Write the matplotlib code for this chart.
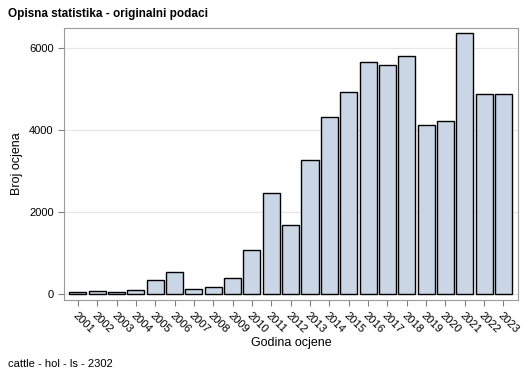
import numpy as np
import matplotlib.pyplot as plt

plt.rcParams['font.family'] = ['Liberation Sans', 'DejaVu Sans']

years = [str(y) for y in range(2001, 2024)]
counts = [40, 80, 40, 90, 340, 540, 130, 180, 400, 1080,
          2460, 1680, 3270, 4320, 4930, 5660, 5590, 5800, 4120, 4220,
          6370, 4880, 4880]

fig = plt.figure(figsize=(5.29, 3.78), dpi=100)
ax = fig.add_axes([0.121, 0.206, 0.858, 0.72])

x = np.arange(len(years))
ax.bar(x, counts, width=0.88, color='#CAD5E5', edgecolor='black', linewidth=1.0, zorder=3)

ax.set_xlim(-0.72, len(years) - 0.25)
ax.set_ylim(-150, 6490)
ax.set_yticks([0, 2000, 4000, 6000])
ax.yaxis.grid(True, color='#E6E6E6', linewidth=0.8, zorder=0)
ax.set_xticks(x)
ax.set_xticklabels(years, rotation=-45, ha='left', va='top', rotation_mode='anchor', fontsize=8)
ax.tick_params(axis='y', labelsize=8, color='#808080', length=4)
ax.tick_params(axis='x', color='#808080', length=4)
for s in ax.spines.values():
    s.set_color('#9A9A9A')

ax.set_xlabel('Godina ocjene', fontsize=9, labelpad=1)
ax.set_ylabel('Broj ocjena', fontsize=9)

fig.text(0.015, 0.955, 'Opisna statistika - originalni podaci', fontsize=8.5, fontweight='bold')
fig.text(0.015, 0.028, 'cattle - hol - ls - 2302', fontsize=8)

fig.savefig('out.png', dpi=100)
